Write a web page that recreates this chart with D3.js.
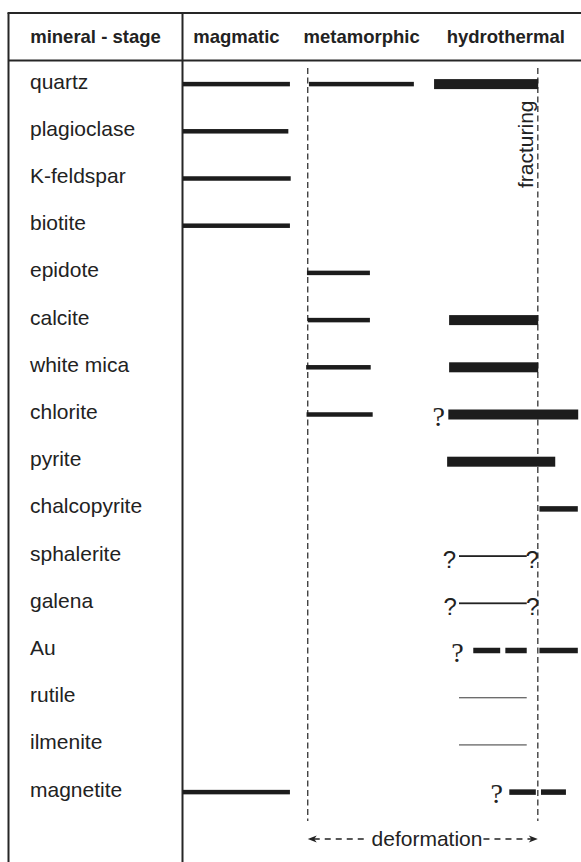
<!DOCTYPE html>
<html>
<head>
<meta charset="utf-8">
<script src="https://cdn.jsdelivr.net/npm/d3@7"></script>
<style>
  html, body { margin: 0; padding: 0; background: #fff; }
  svg { display: block; }
  text { font-family: "Liberation Sans", Arial, Helvetica, sans-serif; fill: #222; }
</style>
</head>
<body>
<svg id="chart" width="581" height="862"></svg>
<script>
// Minerals, top to bottom
const minerals = ["quartz", "plagioclase", "K-feldspar", "biotite", "epidote", "calcite",
  "white mica", "chlorite", "pyrite", "chalcopyrite", "sphalerite", "galena", "Au",
  "rutile", "ilmenite", "magnetite"];

const headerLabel = "mineral - stage";
const stageLabels = ["magmatic", "metamorphic", "hydrothermal"];
const stageLabelCentres = [13.5, 45.1, 81.5];   // relative time of each stage heading

// Relative time (0-100) spans: [mineral, start, end]
const magmaticBars = [["quartz", 0, 27], ["plagioclase", 0, 26.6], ["K-feldspar", 0, 27.2],
  ["biotite", 0, 27], ["magnetite", 0, 27]];
const metamorphicBars = [["quartz", 31.8, 58.3], ["epidote", 31.3, 47.2], ["calcite", 31.5, 47.2],
  ["white mica", 31.1, 47.4], ["chlorite", 31.2, 47.9]];
const hydrothermalBars = [["quartz", 63.4, 89.7], ["calcite", 67.2, 89.7], ["white mica", 67.2, 89.7],
  ["chlorite", 67.0, 99.8], ["pyrite", 66.7, 94.0]];
const lateBars = [["chalcopyrite", 90.0, 99.7], ["Au", 73.3, 80.1], ["Au", 81.4, 86.8],
  ["Au", 90.0, 99.7], ["magnetite", 82.4, 89.1], ["magnetite", 90.4, 96.7]];
const sulphideLines = [["sphalerite", 69.7, 86.8], ["galena", 69.7, 86.8]];
const traceLines = [["rutile", 69.7, 86.8], ["ilmenite", 69.7, 86.8]];

// Uncertain limits: [mineral, time]
const uncertainSerif = [["chlorite", 64.6], ["Au", 69.3], ["magnetite", 79.2]];
const uncertainSans = [["sphalerite", 67.3], ["sphalerite", 88.2], ["galena", 67.5], ["galena", 88.3]];

// Events
const deformationSpan = [31.5, 89.6];
const fracturingTime = 89.6;

const W = 581, H = 862;
const frame = { left: 8.5, divider: 182.5, top: 13, header: 60.5 };

const svg = d3.select("#chart");

const x = d3.scaleLinear().domain([0, 100]).range([183, 579]);
const y = d3.scalePoint().domain(minerals).range([84.1, 792.1]).padding(0);

const ink = "#1c1c1c";

// Table frame
const frameG = svg.append("g").attr("stroke", "#262626").attr("stroke-width", 2);
frameG.append("line").attr("x1", frame.left - 1).attr("x2", W).attr("y1", frame.top).attr("y2", frame.top);
frameG.append("line").attr("x1", frame.left).attr("x2", W).attr("y1", frame.header).attr("y2", frame.header);
frameG.append("line").attr("x1", frame.left).attr("x2", frame.left).attr("y1", frame.top).attr("y2", H);
frameG.append("line").attr("x1", frame.divider).attr("x2", frame.divider).attr("y1", frame.top).attr("y2", H);

// Header
svg.append("text").attr("x", (frame.left + frame.divider) / 2).attr("y", 43)
  .attr("text-anchor", "middle").attr("font-weight", "bold").attr("font-size", 18.5)
  .text(headerLabel);
svg.selectAll("text.stage").data(stageLabels).join("text").attr("class", "stage")
  .attr("x", (d, i) => x(stageLabelCentres[i])).attr("y", 43)
  .attr("text-anchor", "middle").attr("font-weight", "bold").attr("font-size", 18.5)
  .text(d => d);

// Mineral labels
svg.selectAll("text.mineral").data(minerals).join("text").attr("class", "mineral")
  .attr("x", 30).attr("y", d => y(d) + 4.5)
  .attr("font-size", 21)
  .text(d => d);

// Dashed event lines (deformation onset, fracturing)
svg.selectAll("line.event").data([deformationSpan[0], fracturingTime]).join("line")
  .attr("class", "event")
  .attr("x1", d => x(d)).attr("x2", d => x(d))
  .attr("y1", 68).attr("y2", 821)
  .attr("stroke", "#333").attr("stroke-width", 1.3).attr("stroke-dasharray", "6,3.5");

// Bars
function drawBars(data, h, colour) {
  svg.append("g").selectAll("rect").data(data).join("rect")
    .attr("x", d => x(d[1]))
    .attr("width", d => x(d[2]) - x(d[1]))
    .attr("y", d => y(d[0]) - h / 2)
    .attr("height", h)
    .attr("fill", colour);
}
drawBars(magmaticBars, 4.5, ink);
drawBars(metamorphicBars, 4.5, ink);
drawBars(hydrothermalBars, 10, ink);
drawBars(lateBars, 5.5, ink);
drawBars(sulphideLines, 1.8, "#222");
drawBars(traceLines, 1.3, "#666");

// Question marks for uncertain limits
svg.append("g").selectAll("text").data(uncertainSerif).join("text")
  .attr("x", d => x(d[1])).attr("y", d => y(d[0]) + 11)
  .attr("text-anchor", "middle")
  .style("font-family", "'Liberation Serif', 'Times New Roman', serif")
  .attr("font-size", 28)
  .text("?");
svg.append("g").selectAll("text").data(uncertainSans).join("text")
  .attr("x", d => x(d[1])).attr("y", d => y(d[0]) + 11.5)
  .attr("text-anchor", "middle")
  .attr("font-size", 24)
  .text("?");

// Fracturing label along the late dashed line
svg.append("text")
  .attr("transform", `translate(${x(fracturingTime) - 5},188) rotate(-90)`)
  .attr("font-size", 21)
  .text("fracturing");

// Deformation range arrow
const defY = 839;
const defText = svg.append("text")
  .attr("x", 427).attr("y", defY + 6.5)
  .attr("text-anchor", "middle").attr("font-size", 21)
  .text("deformation");
const tb = defText.node().getBBox();
const x0 = x(deformationSpan[0]), x1 = x(deformationSpan[1]);
const arrowG = svg.append("g").attr("stroke", "#222").attr("stroke-width", 1.3);
arrowG.append("line").attr("x1", x0 + 6).attr("x2", tb.x - 4).attr("y1", defY).attr("y2", defY)
  .attr("stroke-dasharray", "6,5");
arrowG.append("line").attr("x1", tb.x + tb.width + 1).attr("x2", x1 - 6).attr("y1", defY).attr("y2", defY)
  .attr("stroke-dasharray", "6,5");
// arrow heads
svg.append("path")
  .attr("d", `M${x0},${defY} L${x0 + 9},${defY - 3.5} L${x0 + 6.5},${defY} L${x0 + 9},${defY + 3.5} Z`)
  .attr("fill", "#222");
svg.append("path")
  .attr("d", `M${x1},${defY} L${x1 - 9},${defY - 3.5} L${x1 - 6.5},${defY} L${x1 - 9},${defY + 3.5} Z`)
  .attr("fill", "#222");
</script>
</body>
</html>
